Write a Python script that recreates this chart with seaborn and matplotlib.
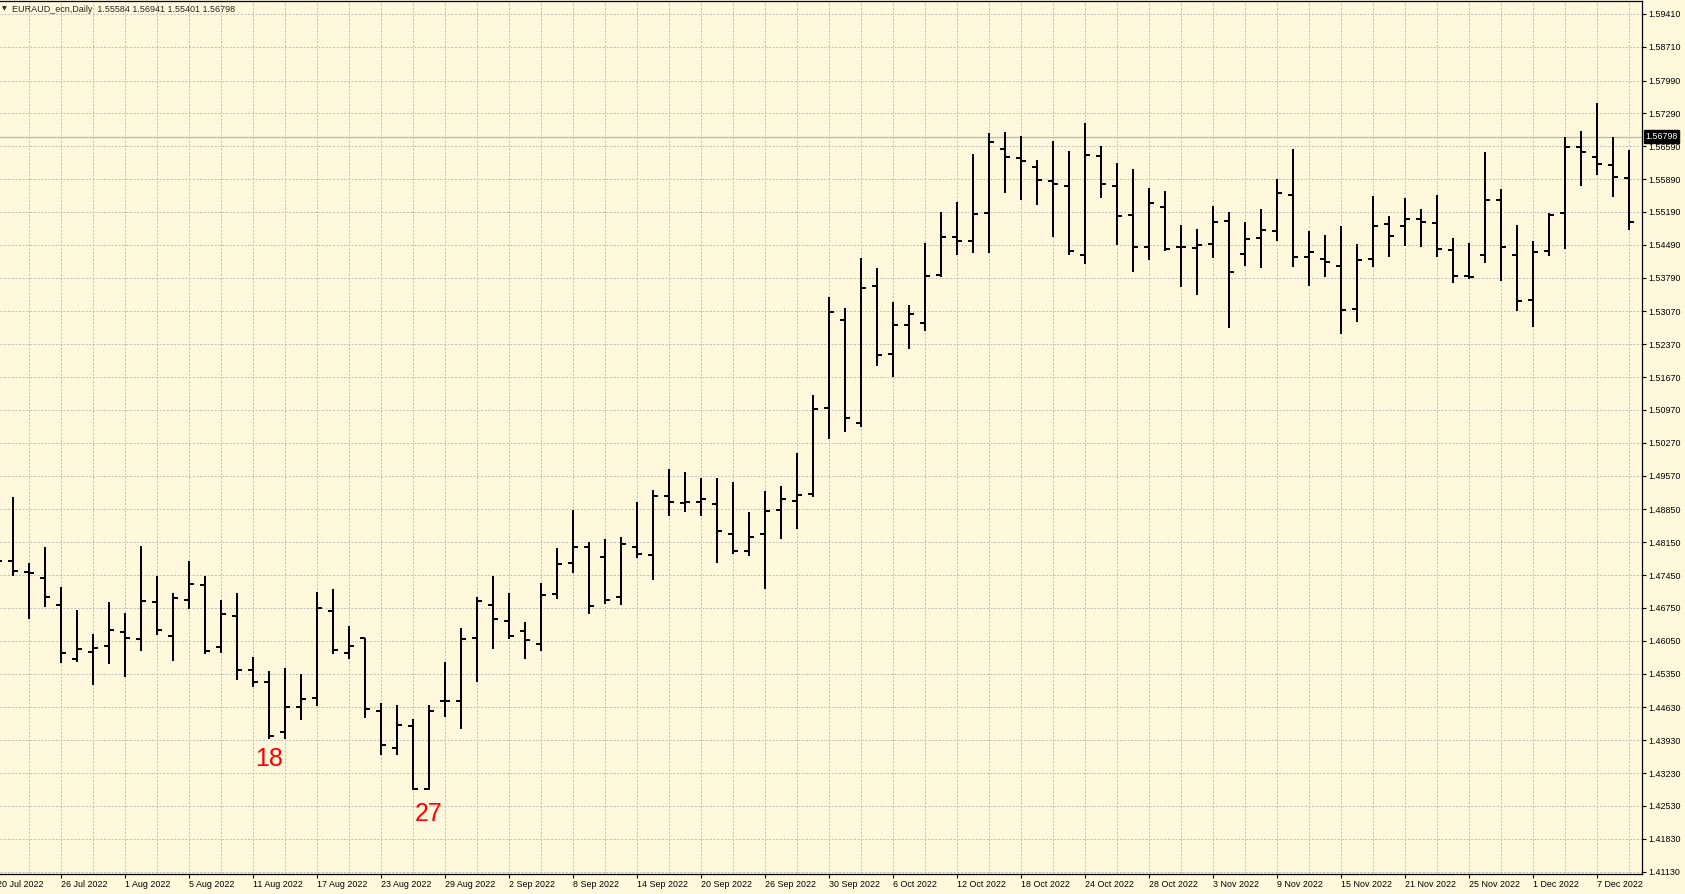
import numpy as np
import pandas as pd
import matplotlib
matplotlib.use("Agg")
import matplotlib.pyplot as plt
import seaborn as sns

# === DATA ===
symbol = "EURAUD_ecn,Daily"
last_ohlc = ["1.55584", "1.56941", "1.55401", "1.56798"]
last_price = 1.56798

dates = pd.bdate_range("2022-07-20", "2022-12-09")

opens = [
    1.47900, 1.47744, 1.47517, 1.47389, 1.46821, 1.45663, 1.45812, 1.45947, 1.46238, 1.46089,
    1.46878, 1.46160, 1.46928, 1.47240, 1.45926, 1.46587, 1.45421, 1.45180, 1.44114, 1.44640,
    1.44839, 1.46693, 1.45798, 1.46103, 1.44562, 1.43759, 1.44242, 1.42892, 1.44768, 1.44768,
    1.46118, 1.46821, 1.46480, 1.46267, 1.45983, 1.47055, 1.47716, 1.48057, 1.47844, 1.46985,
    1.48057, 1.47887, 1.49137, 1.48995, 1.49009, 1.48967, 1.48334, 1.47965, 1.48334, 1.48846,
    1.49038, 1.49180, 1.51005, 1.52888, 1.50700, 1.53620, 1.52163, 1.52781, 1.52831, 1.53847,
    1.54657, 1.54579, 1.55168, 1.56532, 1.56341, 1.56149, 1.55857, 1.55744, 1.54273, 1.56383,
    1.55744, 1.55133, 1.54451, 1.55303, 1.54437, 1.54430, 1.54508, 1.54998, 1.54295, 1.54643,
    1.54785, 1.55559, 1.54238, 1.54188, 1.54046, 1.53130, 1.54188, 1.54941, 1.54899, 1.55048,
    1.54962, 1.54387, 1.53833, 1.54280, 1.55438, 1.54280, 1.53321, 1.54366, 1.55176, 1.56575,
    1.56369, 1.56199, 1.55921,
]
highs = [
    1.48500, 1.49123, 1.47702, 1.48043, 1.47190, 1.46707, 1.46196, 1.46871, 1.46636, 1.48064,
    1.47425, 1.47062, 1.47752, 1.47425, 1.46920, 1.47062, 1.45706, 1.45400, 1.45464, 1.45343,
    1.47084, 1.47155, 1.46366, 1.46117, 1.44718, 1.44676, 1.44377, 1.44676, 1.45592, 1.46316,
    1.46977, 1.47432, 1.47069, 1.46451, 1.47283, 1.48028, 1.48839, 1.48164, 1.48213, 1.48263,
    1.49009, 1.49265, 1.49705, 1.49641, 1.49521, 1.49513, 1.49428, 1.48789, 1.49236, 1.49343,
    1.50053, 1.51282, 1.53385, 1.53137, 1.54202, 1.53989, 1.53264, 1.53208, 1.54522, 1.55183,
    1.55396, 1.56426, 1.56866, 1.56888, 1.56809, 1.56291, 1.56703, 1.56483, 1.57087, 1.56596,
    1.56234, 1.56099, 1.55701, 1.55637, 1.54913, 1.54820, 1.55318, 1.55183, 1.54970, 1.55254,
    1.55886, 1.56525, 1.54778, 1.54692, 1.54891, 1.54508, 1.55531, 1.55097, 1.55481, 1.55247,
    1.55545, 1.54628, 1.54522, 1.56468, 1.55673, 1.54906, 1.54565, 1.55161, 1.56781, 1.56909,
    1.57506, 1.56781, 1.56504,
]
lows = [
    1.47350, 1.47439, 1.46515, 1.46778, 1.45571, 1.45606, 1.45116, 1.45549, 1.45287, 1.45841,
    1.46167, 1.45627, 1.46736, 1.45762, 1.45798, 1.45223, 1.45059, 1.43965, 1.43965, 1.44356,
    1.44669, 1.45762, 1.45670, 1.44413, 1.43624, 1.43610, 1.42871, 1.42871, 1.44434, 1.44180,
    1.45180, 1.45883, 1.46082, 1.45670, 1.45840, 1.46949, 1.47503, 1.46615, 1.46835, 1.46821,
    1.47808, 1.47354, 1.48718, 1.48789, 1.48718, 1.47716, 1.47894, 1.47851, 1.47162, 1.48228,
    1.48441, 1.49109, 1.50359, 1.50508, 1.50615, 1.51915, 1.51680, 1.52277, 1.52661, 1.53812,
    1.54273, 1.54323, 1.54323, 1.55602, 1.55453, 1.55346, 1.54664, 1.54280, 1.54082, 1.55488,
    1.54486, 1.53911, 1.54167, 1.54366, 1.53598, 1.53428, 1.54217, 1.52725, 1.54046, 1.53989,
    1.54579, 1.54011, 1.53606, 1.53797, 1.52583, 1.52838, 1.54011, 1.54224, 1.54458, 1.54437,
    1.54238, 1.53669, 1.53755, 1.54110, 1.53726, 1.53080, 1.52746, 1.54252, 1.54394, 1.55751,
    1.55985, 1.55502, 1.54813,
]
closes = [
    1.47759, 1.47531, 1.47496, 1.46984, 1.45791, 1.45876, 1.45904, 1.46281, 1.46117, 1.46906,
    1.46281, 1.46970, 1.47261, 1.45833, 1.46629, 1.45436, 1.45180, 1.44022, 1.44640, 1.44818,
    1.46757, 1.45855, 1.45933, 1.44604, 1.43837, 1.44256, 1.42892, 1.44555, 1.44768, 1.46096,
    1.46899, 1.46515, 1.46153, 1.46075, 1.47034, 1.47695, 1.48057, 1.46800, 1.46921, 1.48121,
    1.47901, 1.49137, 1.49009, 1.49009, 1.49066, 1.48391, 1.47965, 1.48270, 1.48817, 1.49080,
    1.49165, 1.50991, 1.53066, 1.50799, 1.53570, 1.52142, 1.52781, 1.53023, 1.53833, 1.54657,
    1.54565, 1.55147, 1.56682, 1.56362, 1.56277, 1.55872, 1.55786, 1.54359, 1.56412, 1.55794,
    1.55112, 1.54451, 1.55382, 1.54401, 1.54451, 1.54486, 1.54977, 1.53911, 1.54621, 1.54813,
    1.55595, 1.54238, 1.54344, 1.54131, 1.53101, 1.54167, 1.54891, 1.54685, 1.55048, 1.54977,
    1.54401, 1.53833, 1.53812, 1.55438, 1.54451, 1.53300, 1.54344, 1.55133, 1.56575, 1.56476,
    1.56220, 1.55943, 1.54977,
]

price_labels = [
    "1.41130", "1.41830", "1.42530", "1.43230", "1.43930", "1.44630", "1.45350",
    "1.46050", "1.46750", "1.47450", "1.48150", "1.48850", "1.49570", "1.50270",
    "1.50970", "1.51670", "1.52370", "1.53070", "1.53790", "1.54490", "1.55190",
    "1.55890", "1.56590", "1.57290", "1.57990", "1.58710", "1.59410",
]

# red bar-count notes: text, bar index, price level
notes = [("18", 17, 1.4354), ("27", 27, 1.4235)]

# === STYLE ===
bg = "#FFF8DC"
grid_col = "#C4C0B8"
sns.set_theme(style="white", rc={"axes.facecolor": bg, "figure.facecolor": bg})
plt.rcParams["font.family"] = ["Liberation Sans", "DejaVu Sans"]

df = pd.DataFrame({"date": dates, "open": opens, "high": highs,
                   "low": lows, "close": closes})
df["x"] = np.arange(len(df))
df["label"] = [f"{d.day} {d:%b %Y}" for d in df["date"]]

W, H = 1685, 894
fig = plt.figure(figsize=(W / 100, H / 100), dpi=100)
ax = fig.add_axes([0, 20 / H, 1641.7 / W, 873 / H])

# === OHLC BARS ===
ax.vlines(df["x"], df["low"], df["high"], color="black", lw=1.45, zorder=3)
ax.hlines(df["open"], df["x"] - 0.3, df["x"], color="black", lw=1.45, zorder=3)
ax.hlines(df["close"], df["x"], df["x"] + 0.3, color="black", lw=1.45, zorder=3)

# current price line + label
ax.axhline(last_price, color="#B8B8B8", lw=0.9, zorder=2)
ax.text(1.0022, last_price, f"{last_price:.5f}", transform=ax.get_yaxis_transform(),
        color="white", fontsize=6.4, va="center", ha="left", clip_on=False, zorder=5,
        bbox=dict(facecolor="black", edgecolor="black", pad=1.2))

for txt, xi, yv in notes:
    ax.text(xi, yv, txt, color="red", fontsize=18, ha="center", va="center", zorder=4)

# === AXES ===
ax.yaxis.tick_right()
ax.set_yticks([float(s) for s in price_labels])
ax.set_yticklabels(price_labels)

ax.set_xticks(df["x"][::4])
ax.set_xticklabels(df["label"][::4], ha="left")
ax.set_xticks(df["x"][::2], minor=True)

# limits after the ticks, set_xticks widens the view otherwise
ax.set_xlim(0.1875, 102.79)
ax.set_ylim(1.41080, 1.59687)

# first date sits just left of the view, draw it by hand so it is cut at the edge
ax.annotate(df["label"][0], xy=(df["x"][0], 0), xycoords=ax.get_xaxis_transform(),
            xytext=(0, -4.5), textcoords="offset points", ha="left", va="top",
            fontsize=6.4, color="black", annotation_clip=False)

ax.tick_params(axis="y", which="major", right=True, left=False, length=3, width=0.8,
               pad=2, labelsize=6.4, colors="black", direction="out")
ax.tick_params(axis="x", which="major", bottom=True, length=3, width=0.8,
               pad=1.5, labelsize=6.4, colors="black", direction="out")
ax.tick_params(axis="x", which="minor", bottom=False, length=0)

ax.grid(True, which="both", color=grid_col, lw=0.7, ls=(0, (2.2, 1.6)))
ax.set_axisbelow(True)
ax.set_xlabel("")
ax.set_ylabel("")

for side in ["top", "right", "bottom"]:
    ax.spines[side].set_color("black")
    ax.spines[side].set_linewidth(0.9)
ax.spines["left"].set_visible(False)

# title in top-left corner
fig.text(1.5 / W, 1 - 9 / H, "\u25BC", fontsize=4.5, va="center", ha="left",
         family=["DejaVu Sans"])
fig.text(12 / W, 1 - 9 / H, f"{symbol}  " + " ".join(last_ohlc), fontsize=6.5,
         va="center", ha="left")

plt.savefig("out.png", dpi=100)
